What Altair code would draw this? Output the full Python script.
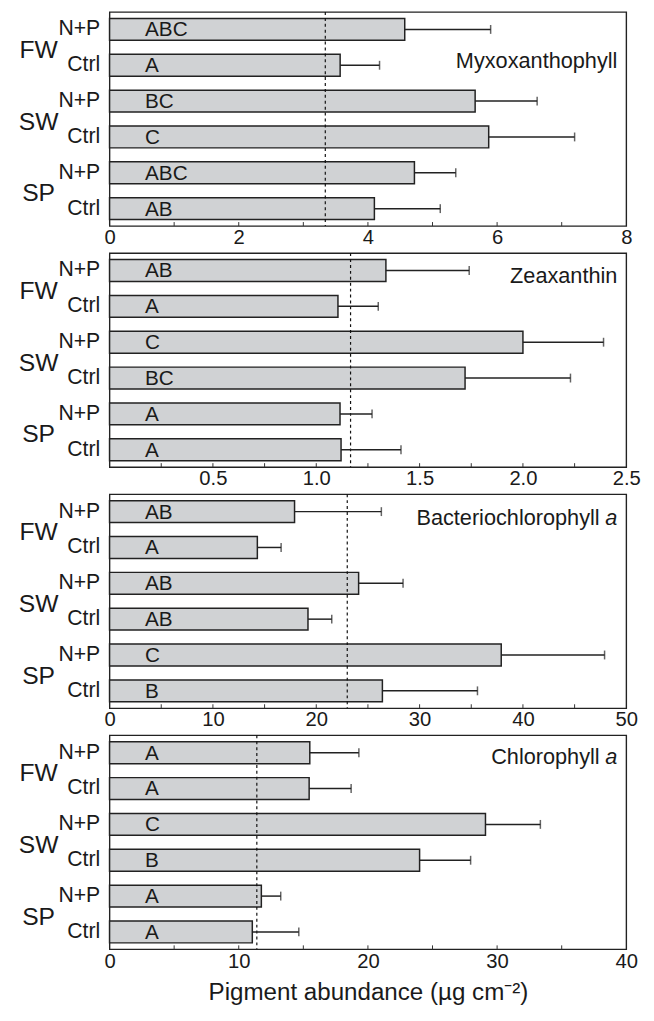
import altair as alt
import pandas as pd

sites = ["FW", "FW", "SW", "SW", "SP", "SP"]
treatments = ["N+P", "Ctrl", "N+P", "Ctrl", "N+P", "Ctrl"]
keys = [f"{s}|{t}" for s, t in zip(sites, treatments)]
group_names = ["FW", "SW", "SP"]

# Myxoxanthophyll
myxo_mean = [4.57, 3.57, 5.66, 5.87, 4.72, 4.10]
myxo_upper = [5.90, 4.18, 6.62, 7.20, 5.36, 5.12]
myxo_letters = ["ABC", "A", "BC", "C", "ABC", "AB"]
myxo_ref = 3.34

# Zeaxanthin
zea_mean = [1.337, 1.105, 2.00, 1.72, 1.115, 1.12]
zea_upper = [1.74, 1.30, 2.39, 2.23, 1.27, 1.41]
zea_letters = ["AB", "A", "C", "BC", "A", "A"]
zea_ref = 1.166

# Bacteriochlorophyll a
bchl_mean = [17.9, 14.3, 24.1, 19.2, 37.9, 26.4]
bchl_upper = [26.3, 16.6, 28.4, 21.5, 47.9, 35.6]
bchl_letters = ["AB", "A", "AB", "AB", "C", "B"]
bchl_ref = 23.0

# Chlorophyll a
chl_mean = [15.5, 15.45, 29.1, 24.0, 11.75, 11.05]
chl_upper = [19.3, 18.7, 33.35, 27.95, 13.25, 14.65]
chl_letters = ["A", "A", "C", "B", "A", "A"]
chl_ref = 11.4

myxo_labels = [0, 2, 4, 6, 8]
myxo_ticks = [1, 2, 3, 4, 5, 6, 7]
zea_labels = [0.5, 1.0, 1.5, 2.0, 2.5]
zea_ticks = [0.25, 0.5, 0.75, 1.0, 1.25, 1.5, 1.75, 2.0, 2.25]
bchl_labels = [0, 10, 20, 30, 40, 50]
bchl_ticks = [5, 10, 15, 20, 25, 30, 35, 40, 45]
chl_labels = [0, 10, 20, 30, 40]
chl_ticks = [5, 10, 15, 20, 25, 30, 35]

FONT = "Liberation Sans"
W, H = 524, 217
TXT = "#1a1a1a"
LINE = "#222222"


def panel(means, uppers, letters, ref, domain, label_vals, tick_vals, fmt,
          title, italic_a, title_y, xtitle):
    df = pd.DataFrame({"key": keys, "mean": means, "upper": uppers, "letter": letters})
    base = alt.Chart(df)
    y = alt.Y("key:N", sort=keys,
              scale=alt.Scale(paddingInner=0.39, paddingOuter=0.18),
              axis=alt.Axis(title=None, ticks=False, domain=False,
                            labelExpr="split(datum.label, '|')[1]",
                            labelFontSize=21.5, labelFont=FONT, labelColor=TXT,
                            labelPadding=10))
    xaxis = alt.Axis(values=label_vals, format=fmt, grid=False, ticks=False,
                     domain=False, labelFontSize=20.5, labelFont=FONT,
                     labelColor=TXT, labelPadding=2, labelFlush=False,
                     labelOverlap=False,
                     title=xtitle if xtitle else None,
                     titleFontSize=24.5, titleFont=FONT, titleFontWeight="normal",
                     titleColor=TXT, titlePadding=9)
    x = alt.X("mean:Q", scale=alt.Scale(domain=domain, nice=False, zero=True),
              axis=xaxis)
    yk = alt.Y("key:N", sort=keys)
    bars = base.mark_bar(fill="#d0d2d4", stroke=LINE, strokeWidth=1.5).encode(x=x, y=y)
    err = base.mark_rule(color=LINE, strokeWidth=1.5).encode(
        x="mean:Q", x2="upper:Q", y=yk)
    caps = base.mark_tick(color=LINE, thickness=1.5, size=9, orient="vertical").encode(
        x="upper:Q", y=yk)
    lett = base.mark_text(align="left", baseline="middle", fontSize=21,
                          font=FONT, color=TXT, dy=1).encode(
        x=alt.value(36), y=yk, text="letter:N")
    refl = alt.Chart(pd.DataFrame({"ref": [ref]})).mark_rule(
        color="#111", strokeWidth=1.2, strokeDash=[3, 3]).encode(x="ref:Q")
    tks = alt.Chart(pd.DataFrame({"t": tick_vals})).mark_rule(
        color="#333", strokeWidth=1).encode(
        x="t:Q", y=alt.value(H), y2=alt.value(H - 4))
    gdf = pd.DataFrame({"key": [f"{g}|N+P" for g in group_names], "g": group_names})
    groups = alt.Chart(gdf).mark_text(fontSize=25, font=FONT, color=TXT,
                                      align="center", baseline="middle", dy=21).encode(
        x=alt.value(-72), y=yk, text="g:N")
    layers = [bars, refl, err, caps, lett, tks, groups]
    if italic_a:
        t1 = alt.Chart(pd.DataFrame({"s": [title]})).mark_text(
            align="right", baseline="middle", fontSize=22, font=FONT, color=TXT).encode(
            x=alt.value(W - 9 - 18), y=alt.value(title_y), text="s:N")
        t2 = alt.Chart(pd.DataFrame({"s": ["a"]})).mark_text(
            align="right", baseline="middle", fontSize=22, font=FONT, color=TXT,
            fontStyle="italic").encode(
            x=alt.value(W - 9), y=alt.value(title_y), text="s:N")
        layers += [t1, t2]
    else:
        t1 = alt.Chart(pd.DataFrame({"s": [title]})).mark_text(
            align="right", baseline="middle", fontSize=22, font=FONT, color=TXT).encode(
            x=alt.value(W - 9), y=alt.value(title_y), text="s:N")
        layers += [t1]
    return alt.layer(*layers).properties(width=W, height=H)


p1 = panel(myxo_mean, myxo_upper, myxo_letters, myxo_ref, [0, 8], myxo_labels,
           myxo_ticks, "d", "Myxoxanthophyll", False, 50, None)
p2 = panel(zea_mean, zea_upper, zea_letters, zea_ref, [0, 2.5], zea_labels,
           zea_ticks, ".1f", "Zeaxanthin", False, 23, None)
p3 = panel(bchl_mean, bchl_upper, bchl_letters, bchl_ref, [0, 50], bchl_labels,
           bchl_ticks, "d", "Bacteriochlorophyll", True, 24, None)
p4 = panel(chl_mean, chl_upper, chl_letters, chl_ref, [0, 40], chl_labels,
           chl_ticks, "d", "Chlorophyll", True, 22, "Pigment abundance (µg cm⁻²)")

chart = alt.vconcat(p1, p2, p3, p4, spacing=27.5, bounds="flush").properties(
    padding={"left": 10, "top": -5, "right": 5, "bottom": 2},
    background="white"
).configure_view(stroke=LINE, strokeWidth=1.4)

chart.save("out.html", embed_options={"renderer": "svg", "actions": False})
